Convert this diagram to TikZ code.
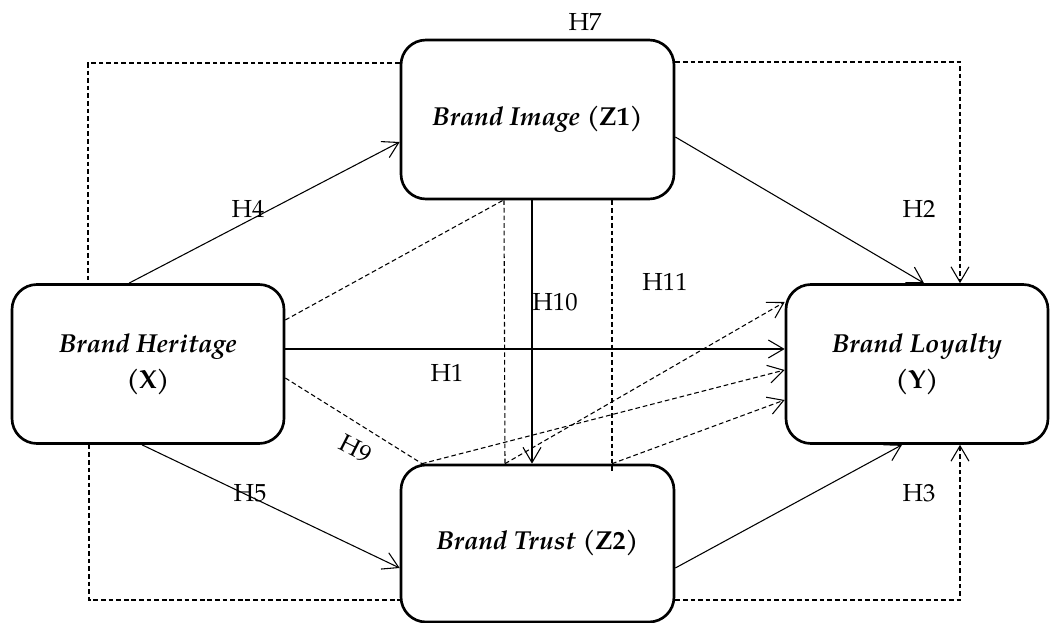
\documentclass[tikz,border=0pt]{standalone}
\usepackage{fontspec}
\setmainfont{TeX Gyre Pagella}
\usetikzlibrary{arrows.meta,calc}
\tikzset{
  every node/.style={font=\fontsize{18.5pt}{27pt}\selectfont},
  box/.style={draw, line width=2pt, rounded corners=18.75pt, inner sep=0pt, align=center, fill=white,
    font=\fontsize{19.5pt}{27pt}\selectfont},
  conn/.style={line width=0.8pt},
  arr/.style={-{Straight Barb[length=11.5pt,width=13.5pt,line width=0.8pt]}},
  dsh/.style={line width=0.8pt, dash pattern=on 3.5pt off 2.2pt},
  lbl/.style={inner sep=0pt}
}
\begin{document}
\begin{tikzpicture}[x=0.75pt,y=-0.75pt]
\useasboundingbox (0,0) rectangle (1051,623);
% boxes
\node[box, minimum width=204.75pt, minimum height=119.25pt] (z1) at (537.5,119.5) {{\bfseries\itshape Brand Image} \textbf{(Z1)}};
\node[box, minimum width=204pt, minimum height=119.25pt] (x) at (148,364) {{\bfseries\itshape Brand Heritage}\\\textbf{(X)}};
\node[box, minimum width=204.75pt, minimum height=117.75pt] (z2) at (537.5,543.5) {{\bfseries\itshape Brand Trust} \textbf{(Z2)}};
\node[box, minimum width=196.5pt, minimum height=119.25pt] (y) at (917,364) {{\bfseries\itshape Brand Loyalty}\\\textbf{(Y)}};
% helper coordinates
\coordinate (tl) at (88,63);
\coordinate (bl) at (89,600);
\coordinate (tr) at (960,62);
\coordinate (br) at (960,600);
\coordinate (v11end) at (612,472);
% H7 dashed routes
\draw[dsh] (z1.west |- tl) -- (tl) -- (x.north -| tl);
\draw[dsh] (x.south -| bl) -- (bl) -- (z2.west |- bl);
\draw[dsh,arr] (z1.east |- tr) -- (tr) -- (y.north -| tr);
\draw[dsh,arr] (z2.east |- br) -- (br) -- (y.south -| br);
% solid paths
\draw[conn,arr] (x.north -| 129,0) -- (z1.west |- 0,142);
\draw[conn,arr] (z1.east |- 0,137) -- (y.north -| 924,0);
\draw[line width=1.2pt,arr] (x.east |- 0,349) -- (y.west |- 0,349);
\draw[conn,arr] (x.south -| 142,0) -- (z2.west |- 0,568);
\draw[conn,arr] (z2.east |- 0,568) -- (y.south -| 902,0);
\draw[conn,arr] (z1.south -| 532,0) -- (z2.north -| 532,0);
% dashed mediation paths
\draw[dsh] (x.east |- 0,320) -- (z1.south -| 503,0);
\draw[dsh] (z1.south -| 504,0) -- (z2.north -| 505,0);
\draw[dsh,arr] (z2.north -| 505,0) -- (y.west |- 0,302);
\draw[dsh] (x.east |- 0,378) -- (z2.north -| 422,0);
\draw[dsh,arr] (z2.north -| 422,0) -- (y.west |- 0,370);
\draw[dsh] (z1.south -| 612,0) -- (v11end);
\draw[dsh,arr] (z2.north -| 612,0) -- (y.west |- 0,400);
% labels
\node[lbl] (h7) at (585,22) {H7};
\node[lbl] (h4) at (248,209) {H4};
\node[lbl] (h2) at (919,209) {H2};
\node[lbl] (h11) at (665,282) {H11};
\node[lbl] (h10) at (555,302) {H10};
\node[lbl] (h1) at (447,373) {H1};
\node[lbl, rotate=-27] (h9) at (356,449) {H9};
\node[lbl] (h5) at (250,493) {H5};
\node[lbl] (h3) at (919,493) {H3};
\end{tikzpicture}
\end{document}
